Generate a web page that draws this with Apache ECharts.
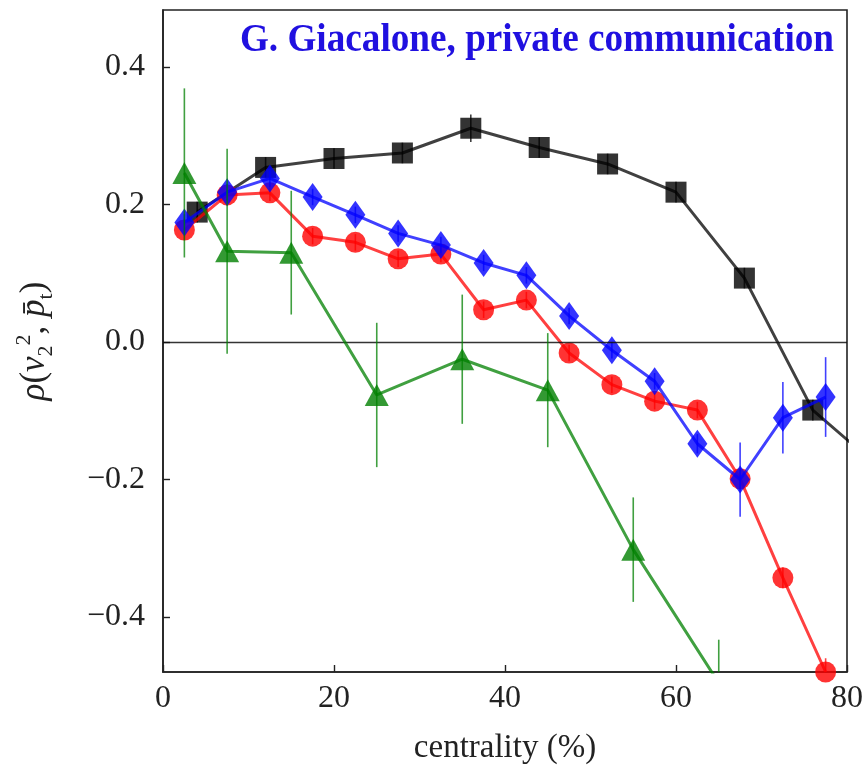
<!DOCTYPE html>
<html>
<head>
<meta charset="utf-8">
<script src="https://cdn.jsdelivr.net/npm/echarts@6/dist/echarts.min.js"></script>
<style>html,body{margin:0;padding:0;background:#fff}#c{width:866px;height:770px}</style>
</head>
<body>
<div id="c"></div>
<script>
// ---- data ----
const blackX = [4, 12, 20, 28, 36, 44, 52, 60, 68, 76, 84];
const blackY = [0.189, 0.254, 0.267, 0.275, 0.311, 0.283, 0.259, 0.218, 0.093, -0.099, -0.185];
const blackErr = [0.015, 0.015, 0.015, 0.015, 0.02, 0.015, 0.015, 0.015, 0.015, 0.015, 0.02];

const redX = [2.5, 7.5, 12.5, 17.5, 22.5, 27.5, 32.5, 37.5, 42.5, 47.5, 52.5, 57.5, 62.5, 67.5, 72.5, 77.5];
const redY = [0.163, 0.214, 0.217, 0.154, 0.145, 0.121, 0.128, 0.047, 0.061, -0.016, -0.062, -0.086, -0.099, -0.199, -0.343, -0.48];
const redErr = [0.015, 0.012, 0.012, 0.012, 0.012, 0.012, 0.012, 0.012, 0.012, 0.012, 0.012, 0.012, 0.012, 0.015, 0.015, 0.02];

const blueX = [2.5, 7.5, 12.5, 17.5, 22.5, 27.5, 32.5, 37.5, 42.5, 47.5, 52.5, 57.5, 62.5, 67.5, 72.5, 77.5];
const blueY = [0.174, 0.218, 0.238, 0.211, 0.185, 0.158, 0.141, 0.115, 0.097, 0.038, -0.012, -0.057, -0.148, -0.2, -0.11, -0.08];
const blueErr = [0.012, 0.012, 0.012, 0.012, 0.012, 0.012, 0.012, 0.012, 0.012, 0.012, 0.012, 0.012, 0.014, 0.054, 0.052, 0.058];

const greenX = [2.5, 7.5, 15, 25, 35, 45, 55, 65];
const greenY = [0.246, 0.132, 0.13, -0.077, -0.025, -0.07, -0.302, -0.496];
const greenErr = [0.123, 0.149, 0.09, 0.105, 0.094, 0.083, 0.076, 0.063];

const xTicks = [0, 20, 40, 60, 80];
const yTicks = [-0.4, -0.2, 0.0, 0.2, 0.4];
const annotation = 'G. Giacalone, private communication';

// ---- helpers ----
const zip = (xs, ys) => xs.map((x, i) => [x, ys[i]]);
const zipErr = (xs, ys, es) => xs.map((x, i) => [x, ys[i] - es[i], ys[i] + es[i]]);

function errSeries(xs, ys, es, color, z) {
  return {
    type: 'custom',
    clip: true,
    silent: true,
    z: z,
    data: zipErr(xs, ys, es),
    renderItem: function (params, api) {
      const p1 = api.coord([api.value(0), api.value(1)]);
      const p2 = api.coord([api.value(0), api.value(2)]);
      return {
        type: 'line',
        shape: { x1: p1[0], y1: p1[1], x2: p2[0], y2: p2[1] },
        style: { stroke: color, lineWidth: 1.6, opacity: 0.75 }
      };
    }
  };
}

function lineSeries(xs, ys, color, symbol, size, z) {
  return {
    type: 'line',
    data: zip(xs, ys),
    clip: true,
    z: z,
    symbol: symbol,
    symbolSize: size,
    showAllSymbol: true,
    lineStyle: { color: color, width: 3, opacity: 0.75 },
    itemStyle: { color: color, opacity: 0.8, borderWidth: 0 },
    emphasis: { disabled: true },
    animation: false
  };
}

const serif = 'Liberation Serif, DejaVu Serif, serif';
const minusFmt = v => {
  const s = Number(v).toFixed(1);
  return s.startsWith('-') ? '\u2212' + s.slice(1) : s;
};

const chart = echarts.init(document.getElementById('c'), null, { renderer: 'canvas' });
chart.setOption({
  animation: false,
  backgroundColor: '#fff',
  grid: { left: 163, right: 18, top: 10, bottom: 98, show: true, borderColor: '#222', borderWidth: 1.6, backgroundColor: 'transparent' },
  xAxis: {
    type: 'value', min: xTicks[0], max: xTicks[xTicks.length - 1], interval: 20,
    axisLine: { show: true, onZero: false, lineStyle: { color: '#222', width: 1.6 } },
    axisTick: { show: true, inside: true, length: 7, lineStyle: { color: '#222', width: 1.4 } },
    axisLabel: { color: '#222', fontFamily: serif, fontSize: 32, margin: 11 },
    splitLine: { show: false },
    name: 'centrality (%)', nameLocation: 'middle', nameGap: 60,
    nameTextStyle: { color: '#222', fontFamily: serif, fontSize: 33 }
  },
  yAxis: {
    type: 'value', min: -0.48, max: 0.483,
    axisLine: { show: true, onZero: false, lineStyle: { color: '#222', width: 1.6 } },
    axisTick: { show: true, inside: true, length: 7, customValues: yTicks, lineStyle: { color: '#222', width: 1.4 } },
    axisLabel: {
      color: '#222', fontFamily: serif, fontSize: 32, margin: 18,
      customValues: yTicks,
      formatter: minusFmt
    },
    splitLine: { show: false },
    name: '{i|ρ}{n|(}{i|v}{sub|2}{sup|2}{n|, }{i|p̄}{sub|t}{n|)}',
    nameLocation: 'middle', nameGap: 106, nameRotate: 90,
    nameTextStyle: {
      color: '#222', fontFamily: serif, fontSize: 35,
      rich: {
        i: { fontFamily: serif, fontStyle: 'italic', fontSize: 35, color: '#222', lineHeight: 44 },
        n: { fontFamily: serif, fontSize: 35, color: '#222', lineHeight: 44 },
        sub: { fontFamily: serif, fontStyle: 'normal', fontSize: 22, color: '#222', verticalAlign: 'bottom', lineHeight: 44, padding: [15, 0, 0, 0] },
        sup: { fontFamily: serif, fontSize: 22, color: '#222', verticalAlign: 'top', lineHeight: 44, padding: [0, 0, 15, 0] }
      }
    }
  },
  graphic: [{
    type: 'text',
    right: 32, top: 21,
    scaleX: 0.93,
    originX: 833,
    style: {
      text: annotation,
      fill: '#2010e0',
      font: 'bold 40px "Liberation Serif", "DejaVu Serif", serif'
    },
    z: 100
  }],
  series: [
    Object.assign(lineSeries(blackX, blackY, '#000000', 'rect', 21, 2), {
      markLine: {
        silent: true, symbol: 'none', animation: false,
        label: { show: false },
        lineStyle: { color: '#111', width: 1.3, type: 'solid', opacity: 0.85 },
        data: [{ yAxis: 0 }]
      }
    }),
    errSeries(blackX, blackY, blackErr, '#000000', 2),
    lineSeries(redX, redY, '#ff0000', 'circle', 21, 3),
    errSeries(redX, redY, redErr, '#ff0000', 3),
    lineSeries(blueX, blueY, '#0000ff', 'diamond', [20, 28], 4),
    errSeries(blueX, blueY, blueErr, '#0000ff', 4),
    lineSeries(greenX, greenY, '#008000', 'triangle', [24, 22], 5),
    errSeries(greenX, greenY, greenErr, '#008000', 5)
  ]
});
</script>
</body>
</html>
